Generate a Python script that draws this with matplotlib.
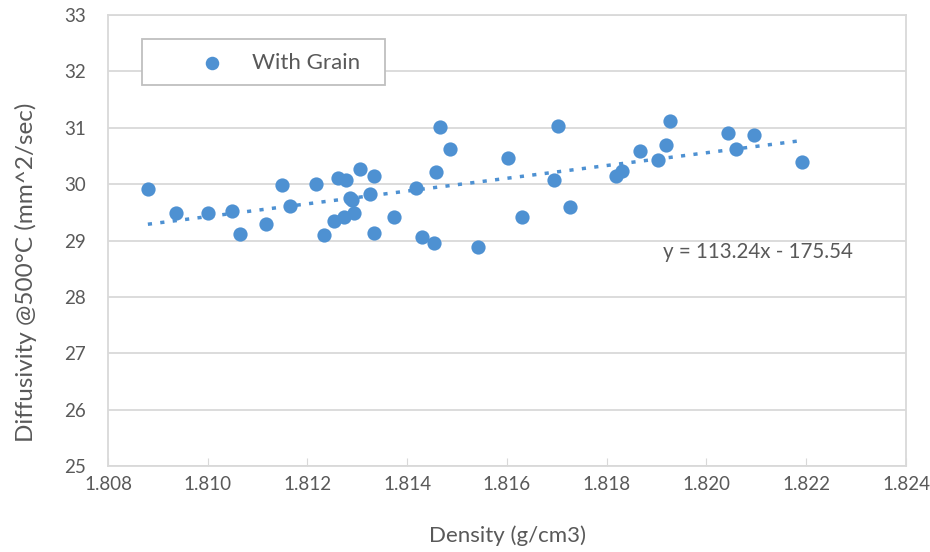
import numpy as np
import matplotlib.pyplot as plt
from matplotlib.patches import Rectangle

plt.rcParams['font.family'] = ['Lato', 'DejaVu Sans']

# Density (g/cm3) and diffusivity @500C (mm^2/sec)
density = [1.80880, 1.80936, 1.81000, 1.81049, 1.81065, 1.81117, 1.81149, 1.81165,
           1.81217, 1.81233, 1.81253, 1.81261, 1.81277, 1.81273, 1.81285, 1.81289,
           1.81293, 1.81305, 1.81325, 1.81333, 1.81333, 1.81373, 1.81418, 1.81430,
           1.81454, 1.81458, 1.81466, 1.81486, 1.81542, 1.81602, 1.81630, 1.81694,
           1.81702, 1.81726, 1.81819, 1.81831, 1.81867, 1.81903, 1.81919, 1.81927,
           1.82043, 1.82059, 1.82095, 1.82191]
diffusivity = [29.91, 29.49, 29.48, 29.52, 29.12, 29.30, 29.98, 29.62,
               30.01, 29.09, 29.34, 30.11, 30.08, 29.42, 29.76, 29.71,
               29.48, 30.26, 29.83, 30.15, 29.13, 29.42, 29.94, 29.06,
               28.95, 30.22, 31.01, 30.62, 28.88, 30.47, 29.42, 30.08,
               31.04, 29.59, 30.14, 30.24, 30.58, 30.42, 30.69, 31.12,
               30.91, 30.62, 30.87, 30.39]

slope, intercept = 113.24, -175.54

blue = '#4E91D2'
grey_txt = '#595959'
grid_c = '#D9D9D9'

fig = plt.figure(figsize=(9.3, 5.52), dpi=100)
ax = fig.add_axes([0.1161, 0.1558, 0.8581, 0.8170])

ax.scatter(density, diffusivity, s=105, color=blue, zorder=3, label='With Grain',
           linewidths=0)

# linear trendline over the data range
xs = np.array([min(density), max(density)])
ax.plot(xs, slope * xs + intercept, color=blue, lw=2.5, linestyle=(0, (1.2, 2.4)),
        dash_capstyle='butt', zorder=2)

ax.set_xlim(1.808, 1.824)
ax.set_ylim(25, 33)
xt = np.arange(1.808, 1.8241, 0.002)
ax.set_xticks(xt)
ax.set_xticklabels(['%.3f' % v for v in xt])
ax.set_yticks(range(25, 34))
ax.yaxis.grid(True, color=grid_c, lw=1.3)
ax.set_axisbelow(True)

for s in ax.spines.values():
    s.set_color(grid_c)
    s.set_linewidth(1.3)

ax.tick_params(axis='x', direction='in', length=6, color=grid_c, labelsize=13.5,
               labelcolor=grey_txt, pad=7)
ax.tick_params(axis='y', length=0, labelsize=13.5, labelcolor=grey_txt, pad=16)

ax.set_xlabel('Density (g/cm3)', fontsize=16, color=grey_txt)
ax.xaxis.set_label_coords(0.501, -0.131)
ax.set_ylabel('Diffusivity @500°C (mm^2/sec)', fontsize=17.5, color=grey_txt)
ax.yaxis.set_label_coords(-0.089, 0.43)

ax.text(1.81913, 28.80, 'y = 113.24x - 175.54', fontsize=14.8, color=grey_txt,
        va='center')

# legend box
ax.add_patch(Rectangle((0.0426, 0.8448), 0.3045, 0.102, transform=ax.transAxes,
                       fill=True, facecolor='white', edgecolor='#BFBFBF', lw=1.3,
                       zorder=4))
leg = ax.legend(loc='center left', bbox_to_anchor=(0.1027, 0.8936), fontsize=16,
                frameon=False, borderpad=0, borderaxespad=0, handlelength=2,
                handletextpad=0.8, markerscale=0.95)
leg.set_zorder(5)
for t in leg.get_texts():
    t.set_color(grey_txt)

fig.savefig('out.png', dpi=100)
